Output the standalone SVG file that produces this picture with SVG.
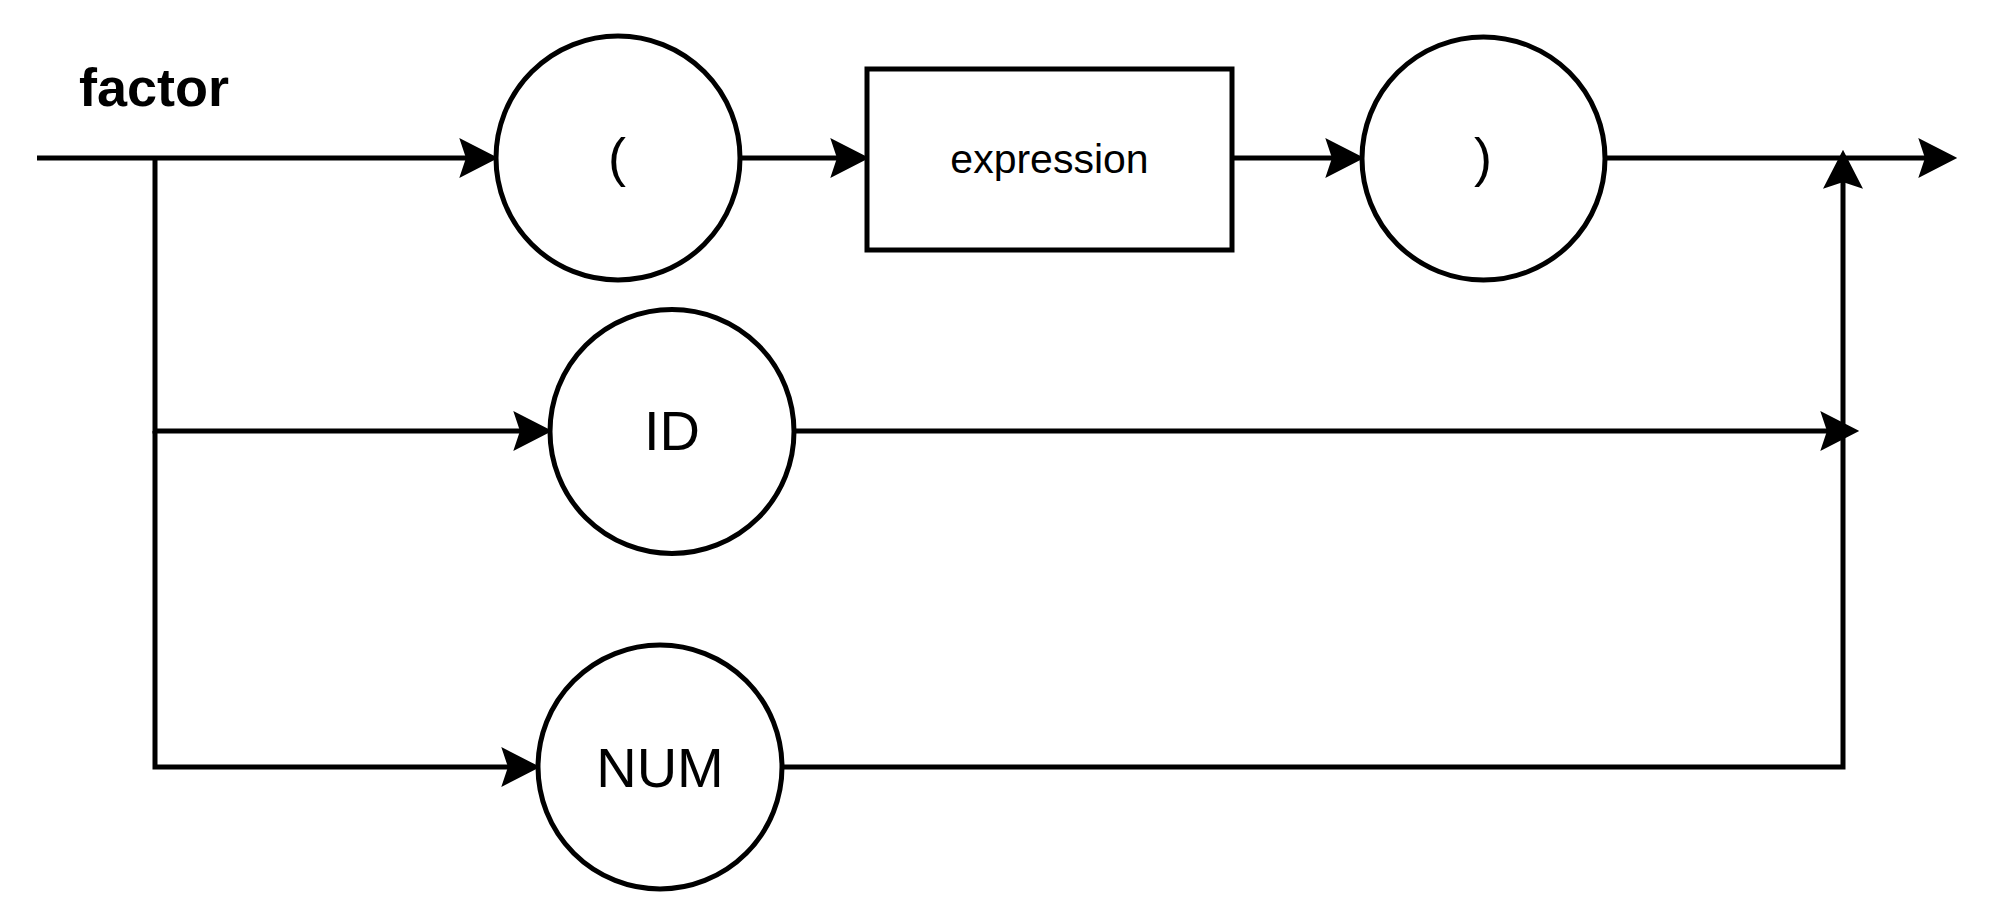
<svg xmlns="http://www.w3.org/2000/svg" width="2000" height="919" viewBox="0 0 2000 919">
<style>
.bg{fill:#ffffff}
.node{fill:#ffffff;stroke:#000000;stroke-width:5}
.edge{fill:none;stroke:#000000;stroke-width:5}
.head{fill:#000000;stroke:#000000;stroke-width:2;stroke-linejoin:miter}
.lbl{font-family:"Liberation Sans",Arial,sans-serif;fill:#000000;text-anchor:middle}
.title{font-family:"Liberation Sans",Arial,sans-serif;font-weight:bold;font-size:54px;fill:#000000}
</style>
<rect class="bg" x="0" y="0" width="2000" height="919"/>
<text class="title" x="79" y="106">factor</text>
<g id="connectors">
<path class="edge" d="M37,158 H474"/>
<path class="edge" d="M740,158 H845"/>
<path class="edge" d="M1232,158 H1340"/>
<path class="edge" d="M1605,158 H1933"/>
<path class="edge" d="M155,158 V431 H528"/>
<path class="edge" d="M155,431 V767 H516"/>
<path class="edge" d="M794,431 H1835"/>
<path class="edge" d="M782,767 H1843 V174"/>
<path class="head" d="M496,158 L461,140 L467,158 L461,176 Z"/>
<path class="head" d="M867,158 L832,140 L838,158 L832,176 Z"/>
<path class="head" d="M1362,158 L1327,140 L1333,158 L1327,176 Z"/>
<path class="head" d="M1955,158 L1920,140 L1926,158 L1920,176 Z"/>
<path class="head" d="M550,431 L515,413 L521,431 L515,449 Z"/>
<path class="head" d="M538,767 L503,749 L509,767 L503,785 Z"/>
<path class="head" d="M1857,431 L1822,413 L1828,431 L1822,449 Z"/>
<path class="head" d="M1843,152 L1825,187 L1843,181 L1861,187 Z"/>
</g>
<g id="lparen">
<circle class="node" cx="618" cy="158" r="122"/>
<text class="lbl" x="617" y="176" font-size="54">(</text>
</g>
<g id="expression">
<rect class="node" x="867" y="69" width="365" height="181"/>
<text class="lbl" x="1049.5" y="173" font-size="41">expression</text>
</g>
<g id="rparen">
<circle class="node" cx="1483.5" cy="158.5" r="121.5"/>
<text class="lbl" x="1483" y="176" font-size="54">)</text>
</g>
<g id="ID">
<circle class="node" cx="672" cy="431.5" r="122"/>
<text class="lbl" x="672" y="450" font-size="56">ID</text>
</g>
<g id="NUM">
<circle class="node" cx="660" cy="767" r="122"/>
<text class="lbl" x="660" y="787" font-size="56">NUM</text>
</g>
</svg>
